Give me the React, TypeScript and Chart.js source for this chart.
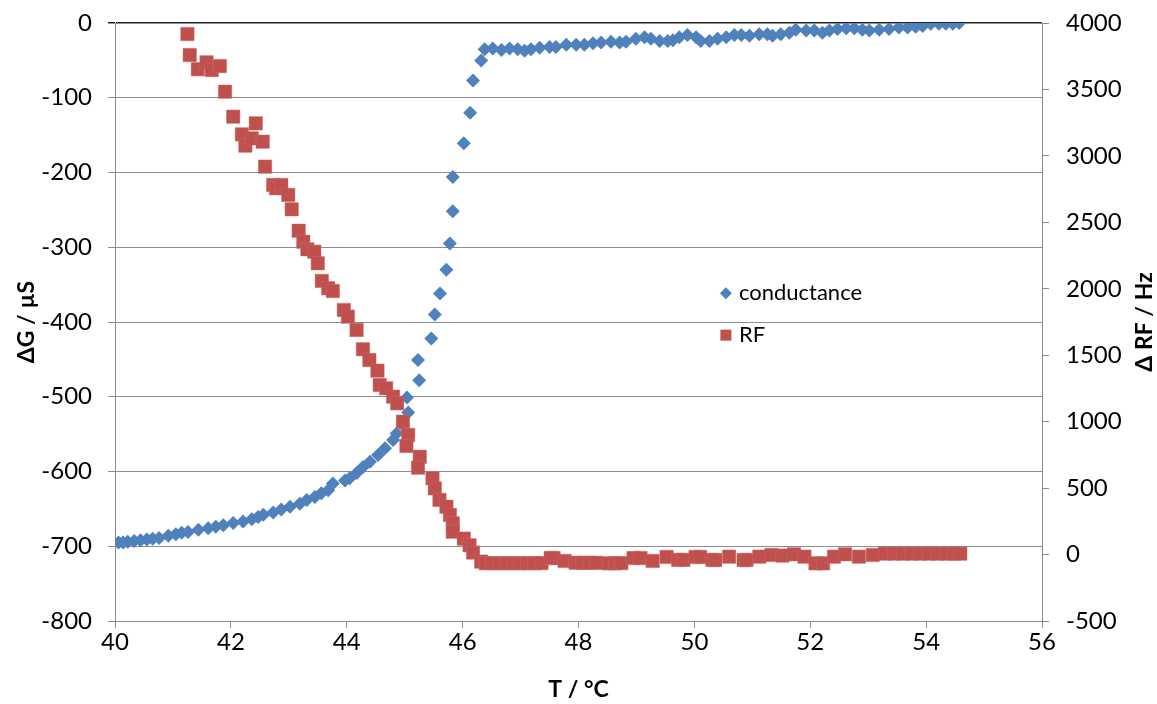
import React, { useEffect, useRef } from "react";
import { Chart, registerables } from "chart.js";

Chart.register(...registerables);

// Temperature (°C) and conductance change (µS)
const condT = [
  40.06, 40.14, 40.22, 40.33, 40.44, 40.55, 40.65, 40.76, 40.92, 41.05, 41.15, 41.26, 41.44,
  41.61, 41.74, 41.87, 42.04, 42.21, 42.36, 42.47, 42.56, 42.73, 42.87, 43.02, 43.19, 43.31,
  43.45, 43.56, 43.68, 43.76, 43.97, 44.05, 44.17, 44.28, 44.4, 44.54, 44.66, 44.8, 44.86,
  44.97, 45.06, 45.04, 45.23, 45.25, 45.46, 45.52, 45.61, 45.72, 45.78, 45.83, 45.83, 46.02,
  46.13, 46.18, 46.32, 46.38, 46.52, 46.67, 46.81, 46.95, 47.07, 47.18, 47.33, 47.5, 47.61,
  47.79, 47.96, 48.1, 48.25, 48.39, 48.56, 48.71, 48.82, 48.99, 49.14, 49.25, 49.4, 49.54,
  49.63, 49.74, 49.88, 50.03, 50.11, 50.26, 50.4, 50.55, 50.69, 50.81, 50.95, 51.12, 51.26,
  51.35, 51.49, 51.64, 51.75, 51.93, 52.07, 52.21, 52.33, 52.47, 52.62, 52.76, 52.9, 53.02,
  53.19, 53.36, 53.53, 53.68, 53.82, 53.94, 54.08, 54.22, 54.34, 54.46, 54.57,
];
const condG = [
  -695, -695, -694, -693, -692, -691, -690, -689, -686, -684, -682, -681, -678,
  -676, -674, -672, -669, -667, -664, -661, -658, -655, -651, -647, -643, -638,
  -634, -629, -625, -616, -612, -609, -602, -594, -587, -578, -569, -558, -549,
  -538, -521, -501, -451, -478, -422, -390, -362, -330, -295, -252, -206, -161,
  -120, -77, -50, -35, -34, -36, -34, -35, -37, -35, -33, -32, -32,
  -29, -29, -29, -27, -26, -25, -26, -25, -21, -19, -21, -24, -24,
  -23, -19, -16, -19, -24, -24, -21, -19, -16, -16, -17, -15, -15,
  -17, -15, -13, -9, -10, -10, -13, -10, -8, -7, -7, -9, -10,
  -9, -8, -6, -6, -5, -4, -1, -1, -1, -1, 0,
];

// Temperature (°C) and resonance frequency change (Hz)
const rfT = [
  41.25, 41.29, 41.43, 41.58, 41.67, 41.81, 41.9, 42.04, 42.19, 42.25, 42.36, 42.43, 42.55,
  42.59, 42.73, 42.78, 42.87, 42.99, 43.05, 43.17, 43.25, 43.32, 43.44, 43.5, 43.57, 43.68,
  43.76, 43.95, 44.02, 44.17, 44.28, 44.39, 44.53, 44.57, 44.68, 44.8, 44.87, 44.97, 45.06,
  45.03, 45.26, 45.23, 45.48, 45.52, 45.6, 45.72, 45.78, 45.83, 45.83, 46.02, 46.12, 46.18,
  46.32, 46.4, 46.52, 46.64, 46.76, 46.88, 47.0, 47.12, 47.24, 47.36, 47.52, 47.57, 47.76,
  47.95, 48.07, 48.19, 48.31, 48.52, 48.63, 48.74, 48.95, 49.07, 49.28, 49.52, 49.72, 49.81,
  50.02, 50.1, 50.31, 50.36, 50.6, 50.85, 50.9, 51.12, 51.33, 51.52, 51.72, 51.9, 52.09,
  52.22, 52.41, 52.6, 52.84, 53.08, 53.29, 53.45, 53.6, 53.75, 53.9, 54.05, 54.2, 54.35,
  54.48, 54.59,
];
const rfHz = [
  3917, 3759, 3652, 3704, 3646, 3676, 3483, 3295, 3162, 3077, 3132, 3245, 3107,
  2919, 2781, 2756, 2781, 2706, 2598, 2437, 2354, 2297, 2279, 2192, 2059, 2004,
  1983, 1840, 1790, 1690, 1545, 1464, 1384, 1276, 1251, 1188, 1138, 1000, 900,
  817, 736, 654, 574, 498, 411, 360, 298, 235, 172, 120, 70, 15,
  -53, -65, -65, -65, -65, -65, -65, -65, -65, -64, -26, -26, -48,
  -62, -62, -62, -62, -66, -66, -64, -26, -26, -48, -18, -40, -40,
  -18, -18, -40, -41, -16, -41, -41, -16, -3, -8, 2, -16, -66,
  -66, -16, 2, -16, -3, 7, 7, 7, 7, 7, 7, 7, 7,
  7, 7,
];

const xTicksRange = { min: 40, max: 56, step: 2 };
const gRange = { min: -800, max: 0, step: 100 };
const rfRange = { min: -500, max: 4000, step: 500 };

const seriesNames = ["conductance", "RF"];
const xTitle = "T / °C";
const leftTitle = "ΔG / µS";
const rightTitle = "Δ RF / Hz";

const BLUE = "#4F81BD";
const RED = "#C0504D";
const GRID = "#8c8c8c";
const FONT = "Lato";
const TICK_SIZE = 24;

const plainNumber = (v: any) => String(v);

// fixed-width vertical axes without extra top/bottom label overhang
const fitVertical = (s: any) => {
  s.width = 115;
  s.paddingTop = 0;
  s.paddingBottom = 0;
};

const overlayPlugin = {
  id: "overlay",
  afterDraw(chart: any) {
    const ctx = chart.ctx as CanvasRenderingContext2D;
    const area = chart.chartArea;
    const midY = (area.top + area.bottom) / 2;
    ctx.save();
    ctx.fillStyle = "#000";
    ctx.font = `bold 23px ${FONT}`;
    ctx.textAlign = "center";
    ctx.textBaseline = "middle";

    ctx.save();
    ctx.translate(27, midY);
    ctx.rotate(-Math.PI / 2);
    ctx.fillText(leftTitle, 0, 0);
    ctx.restore();

    ctx.save();
    ctx.translate(chart.width - 12, midY);
    ctx.rotate(-Math.PI / 2);
    ctx.fillText(rightTitle, 0, 0);
    ctx.restore();

    ctx.fillText(xTitle, (area.left + area.right) / 2, chart.height - 14);

    // legend inside the plot area
    const lx = area.left + (area.right - area.left) * 0.659;
    const ly1 = area.top + (area.bottom - area.top) * 0.452;
    const ly2 = area.top + (area.bottom - area.top) * 0.522;
    ctx.fillStyle = BLUE;
    ctx.beginPath();
    ctx.moveTo(lx, ly1 - 6);
    ctx.lineTo(lx + 6, ly1);
    ctx.lineTo(lx, ly1 + 6);
    ctx.lineTo(lx - 6, ly1);
    ctx.closePath();
    ctx.fill();
    ctx.fillStyle = RED;
    ctx.fillRect(lx - 5.5, ly2 - 5.5, 11, 11);
    ctx.fillStyle = "#000";
    ctx.font = `22px ${FONT}`;
    ctx.textAlign = "left";
    ctx.fillText(seriesNames[0], lx + 13, ly1);
    ctx.fillText(seriesNames[1], lx + 13, ly2);
    ctx.restore();
  },
};

export default function App() {
  const canvasRef = useRef<HTMLCanvasElement | null>(null);

  useEffect(() => {
    if (!canvasRef.current) return;
    const condData = condT.map((t, i) => ({ x: t, y: condG[i] }));
    const rfData = rfT.map((t, i) => ({ x: t, y: rfHz[i] }));

    const chart = new Chart(canvasRef.current, {
      type: "scatter",
      data: {
        datasets: [
          {
            label: seriesNames[0],
            data: condData,
            yAxisID: "y",
            pointStyle: "rectRot",
            pointRadius: 7,
            pointBorderWidth: 0,
            backgroundColor: BLUE,
            borderColor: BLUE,
            order: 2,
          },
          {
            label: seriesNames[1],
            data: rfData,
            yAxisID: "y2",
            pointStyle: "rect",
            pointRadius: 9.5,
            pointBorderWidth: 0.5,
            backgroundColor: RED,
            borderColor: "rgba(200,110,108,0.9)",
            order: 1,
          },
        ],
      },
      options: {
        responsive: false,
        animation: false,
        devicePixelRatio: 1,
        layout: { padding: { top: 23, left: 0, right: 0, bottom: 0 } },
        plugins: {
          legend: { display: false },
          tooltip: { enabled: false },
        },
        scales: {
          x: {
            type: "linear",
            min: xTicksRange.min,
            max: xTicksRange.max,
            afterFit: (s: any) => {
              s.height = 83;
            },
            ticks: {
              stepSize: xTicksRange.step,
              color: "#000",
              font: { family: FONT, size: TICK_SIZE },
              padding: 0,
              maxRotation: 0,
              callback: plainNumber,
            },
            grid: { drawOnChartArea: false, color: GRID, tickLength: 7 },
            border: { color: GRID, width: 1 },
          },
          y: {
            type: "linear",
            position: "left",
            min: gRange.min,
            max: gRange.max,
            afterFit: fitVertical,
            ticks: {
              stepSize: gRange.step,
              color: "#000",
              font: { family: FONT, size: TICK_SIZE },
              padding: 16,
              callback: plainNumber,
            },
            grid: {
              color: (c: any) => (c.tick && c.tick.value === 0 ? "#222" : GRID),
              lineWidth: (c: any) => (c.tick && c.tick.value === 0 ? 1.5 : 1),
              tickLength: 7,
            },
            border: { color: GRID, width: 1 },
          },
          y2: {
            type: "linear",
            position: "right",
            min: rfRange.min,
            max: rfRange.max,
            afterFit: fitVertical,
            ticks: {
              stepSize: rfRange.step,
              color: "#000",
              font: { family: FONT, size: TICK_SIZE },
              padding: 17,
              callback: plainNumber,
            },
            grid: { drawOnChartArea: false, color: GRID, tickLength: 7 },
            border: { color: GRID, width: 1 },
          },
        },
      },
      plugins: [overlayPlugin],
    });

    return () => chart.destroy();
  }, []);

  return (
    <div style={{ position: "absolute", left: 0, top: 0, width: 1157, height: 704, background: "#fff" }}>
      <canvas ref={canvasRef} width={1157} height={704} style={{ display: "block" }} />
    </div>
  );
}
